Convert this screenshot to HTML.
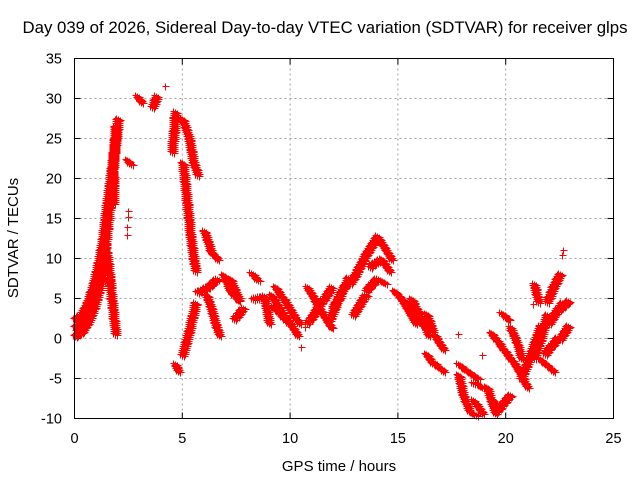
<!DOCTYPE html>
<html><head><meta charset="utf-8"><style>
body{margin:0;background:#fff;}
svg{display:block;font-family:"Liberation Sans",sans-serif;}
</style></head><body>
<svg id="chart" width="640" height="480">
<rect x="0" y="0" width="640" height="480" fill="#fff"/>
<text x="325" y="33" font-size="16.8" text-anchor="middle" fill="#000">Day 039 of 2026, Sidereal Day-to-day VTEC variation (SDTVAR) for receiver glps</text>
<g id="grid"></g>
<g id="ticks"></g>
<g id="pts"></g>
<rect x="74.5" y="58.5" width="539" height="360" fill="none" stroke="#000" stroke-width="1"/>
<text x="339" y="471" font-size="15" text-anchor="middle">GPS time / hours</text>
<text x="18" y="238" font-size="15" text-anchor="middle" transform="rotate(-90 18 238)">SDTVAR / TECUs</text>
</svg>
<script>
const xTicks=[0,5,10,15,20,25];
const yTicks=[-10,-5,0,5,10,15,20,25,30,35];
const tracks=[
[[0,0.3],[0.3,0.8],[0.6,2],[0.9,4],[1.1,6],[1.3,9],[1.5,14],[1.7,19],[1.8,23],[1.9,26.5]],
[[0,2.5],[0.3,3],[0.6,4.5],[0.9,7],[1.1,9.5],[1.3,12.5],[1.5,17],[1.7,21],[1.9,25],[2.0,27.5]],
[[0,1.5],[0.4,2],[0.7,3.5],[1.0,6],[1.2,9],[1.4,12]],
[[0.1,1],[0.5,3],[0.8,5.5],[1.1,8],[1.3,10.5]],
[[1.45,11],[1.6,8],[1.7,5],[1.8,2.5],[1.9,0.6]],
[[0.9,7],[1.6,7.5]],
[[1.75,21.5],[1.8,17]],
[[2.45,22.3],[2.6,21.8]],
[[2.5,16]],[[2.5,15.2]],[[2.45,14]],[[2.45,13]],
[[2.9,30.3],[3.1,29.6]],[[3.6,29],[3.8,30.3]],[[4.2,31.6]],
[[4.65,28.3],[4.6,26],[4.5,23.3]],
[[4.65,-3.2],[4.8,-4]],
[[5.0,27.5],[5.3,25],[5.5,22],[5.7,20.5]],
[[5.0,22],[5.2,17],[5.35,13],[5.5,10],[5.6,8.5]],
[[5.0,-2],[5.3,1],[5.6,4.5]],
[[6.0,13.5],[6.3,11],[6.6,10]],
[[5.7,5.8],[6.2,6.5],[6.6,7.5]],
[[6.1,5.5],[6.3,4],[6.5,2],[6.7,0.5]],
[[6.9,8],[7.2,6],[7.6,4.8]],[[7.2,7.5],[7.6,5]],
[[7.4,2.5],[7.8,3.8]],
[[8.2,8.2],[8.5,7.3]],[[8.3,5],[8.8,5.3],[9.0,2]],
[[9.1,5.5],[9.6,3.5],[10.3,0.5]],[[9.3,6.5],[9.8,4.5],[10.4,2]],[[9.2,4],[9.9,2]],
[[10.8,6.4],[11.3,4],[11.9,1.4]],[[10.8,2],[11.3,4],[11.9,6.4]],[[10.5,-1]],[[10.7,1.5]],
[[11.8,2.3],[12.2,5],[12.7,7.6]],[[12.0,4],[12.5,6.5]],
[[12.8,7],[13.2,9],[13.6,11]],[[13.6,11],[14.05,12.8],[14.7,10]],
[[13.7,9],[14.2,10],[14.6,8.5]],[[13.5,6],[14.0,7.5],[14.4,7]],[[12.9,3],[13.5,5.5]],
[[14.8,6],[15.5,4],[16.2,1.5]],[[15.6,5],[16.0,3],[16.4,0.5]],[[15.2,4.8],[15.8,2]],
[[16.3,3.1],[16.6,1]],[[16.7,0.4],[17.1,-1.3]],[[16.3,-1.9],[16.6,-3]],[[16.7,-3.1],[17.1,-4]],
[[17.8,0.6]],[[17.8,-3.2],[18.3,-4.2],[18.7,-4.9]],
[[17.8,-4.5],[18.0,-7],[18.3,-9],[18.6,-9.5]],
[[18.5,-5.5],[18.9,-6.1]],[[18.9,-2]],[[18.5,-7.7],[18.9,-9.3]],
[[19.1,-6],[19.5,-9.3],[20.2,-7]],[[19.3,-7.5],[19.6,-8.8]],
[[19.3,0.7],[19.8,-1],[20.2,-2.5]],[[19.8,3.2],[20.1,2.4]],
[[20.2,1.4],[20.5,-0.5],[20.7,-2.4]],[[20.3,-2.7],[21.0,-6]],
[[20.7,-5],[21.2,-1.5],[21.6,1.6]],[[21.3,6.8],[21.5,4.6]],[[21.25,4.3]],
[[21.3,-2.4],[21.6,0],[21.9,3]],[[21.9,4.6],[22.2,6.5],[22.5,8.1]],
[[21.5,-2.4],[22.2,-4]],[[21.8,-1.9],[22.4,0.1]],[[22.4,3.5],[22.9,4.7]],
[[22.65,11.1]],[[22.6,10.5]],[[22.5,0],[22.9,1.6]],[[22.0,2],[22.6,4.5]]
];
const X=h=>74.5+h*21.56, Y=v=>418.5-(v+10)*8;
const NS='http://www.w3.org/2000/svg';
const grid=document.getElementById('grid'),ticks=document.getElementById('ticks'),pts=document.getElementById('pts');
function ln(g,x1,y1,x2,y2,st,dash,name){const l=document.createElementNS(NS,'line');
l.setAttribute('x1',x1);l.setAttribute('y1',y1);l.setAttribute('x2',x2);l.setAttribute('y2',y2);
l.setAttribute('stroke',st);if(dash)l.setAttribute('stroke-dasharray',dash);


g.appendChild(l);}
function tx(g,x,y,s,anchor,name){const t=document.createElementNS(NS,'text');t.setAttribute('x',x);t.setAttribute('y',y);
t.setAttribute('font-size','14.5');t.setAttribute('text-anchor',anchor);t.textContent=s;


g.appendChild(t);}
xTicks.forEach(h=>{const x=X(h);
 if(h>0&&h<25)ln(grid,x,58.5,x,418.5,'#a0a0a0','2,3','x-gridline');
 ln(ticks,x,418.5,x,412.5,'#000',null,'x-tick');ln(ticks,x,58.5,x,64.5,'#000',null,'x-tick');
 tx(ticks,x,443,String(h),'middle','x-tick-label');});
yTicks.forEach(v=>{const y=Y(v);
 if(v>-10&&v<35)ln(grid,74.5,y,613.5,y,'#a0a0a0','2,3','y-gridline');
 ln(ticks,74.5,y,80.5,y,'#000',null,'y-tick');ln(ticks,613.5,y,607.5,y,'#000',null,'y-tick');
 tx(ticks,62,y+5,String(v),'end','y-tick-label');});
tracks.forEach(tr=>{
 let d='';
 const mark1=(px,py)=>{px=Math.round(px)+0.5;py=Math.round(py)+0.5;d+=`M${px-3} ${py}h7M${px} ${py-3}v7`;};
 if(tr.length===1){mark1(X(tr[0][0]),Y(tr[0][1]));}
 else for(let i=0;i<tr.length-1;i++){const x1=X(tr[i][0]),y1=Y(tr[i][1]),x2=X(tr[i+1][0]),y2=Y(tr[i+1][1]);
  const n=Math.max(1,Math.ceil(Math.hypot(x2-x1,y2-y1)/2));
  for(let k=0;k<=n;k++){const px=x1+(x2-x1)*k/n,py=y1+(y2-y1)*k/n;mark1(px,py);mark1(px+2,py+1);mark1(px-2,py-1);}}
 const p=document.createElementNS(NS,'path');
 p.setAttribute('d',d);p.setAttribute('fill','none');p.setAttribute('stroke','#ff0000');p.setAttribute('stroke-width','1');
 
 
 pts.appendChild(p);
});
</script>
</body></html>
